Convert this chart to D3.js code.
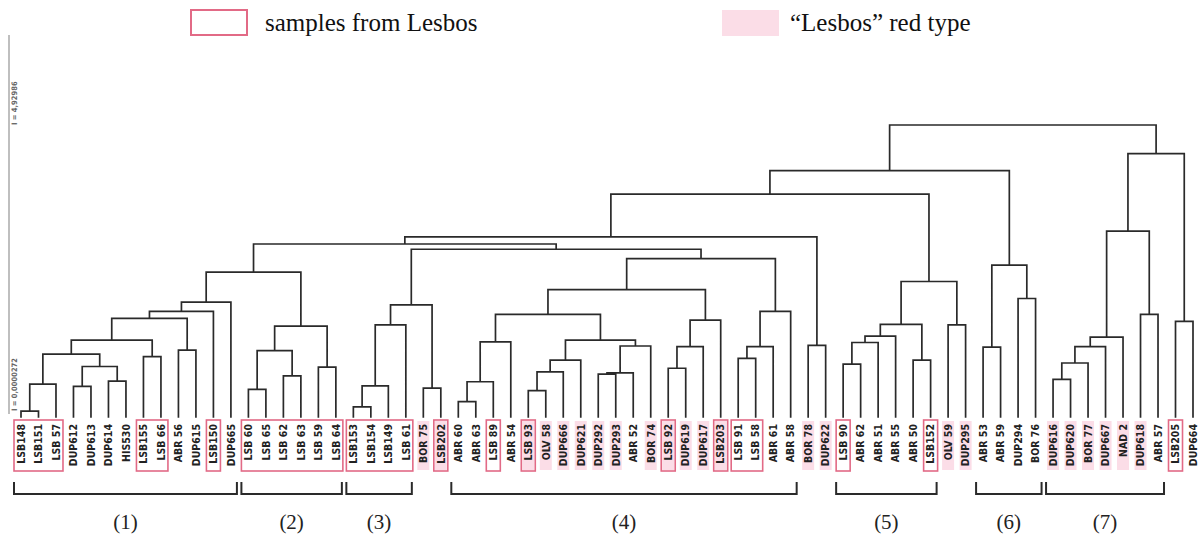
<!DOCTYPE html>
<html>
<head>
<meta charset="utf-8">
<script src="https://cdn.jsdelivr.net/npm/d3@7"></script>
<style>
  html, body { margin: 0; padding: 0; background: #fff; }
  svg { display: block; }
</style>
</head>
<body>
<svg id="chart" width="1202" height="534"></svg>
<script>
// ---------- DATA ----------
const leaves = [
  "LSB148","LSB151","LSB 57","DUP612","DUP613","DUP614","HIS530","LSB155","LSB 66","ABR 56","DUP615","LSB150","DUP665",
  "LSB 60","LSB 65","LSB 62","LSB 63","LSB 59","LSB 64",
  "LSB153","LSB154","LSB149","LSB 61","BOR 75","LSB202",
  "ABR 60","ABR 63","LSB 89","ABR 54","LSB 93","OLV 58","DUP666","DUP621","DUP292","DUP293","ABR 52","BOR 74",
  "LSB 92","DUP619","DUP617","LSB203","LSB 91","LSB 58","ABR 61","ABR 58",
  "BOR 78","DUP622",
  "LSB 90","ABR 62","ABR 51","ABR 55","ABR 50","LSB152","OLV 59","DUP295",
  "ABR 53","ABR 59","DUP294","BOR 76",
  "DUP616","DUP620","BOR 77","DUP667","NAD 2","DUP618","ABR 57","LSB205","DUP664"
];

// merges: [id, left child, right child, height (I)]
const merges = [
  ["m1","LSB148","LSB151",0.05],
  ["m2","m1","LSB 57",0.51],
  ["m3","DUP612","DUP613",0.47],
  ["m4","DUP614","HIS530",0.56],
  ["m5","m3","m4",0.81],
  ["m6","m2","m5",1.02],
  ["m7","LSB155","LSB 66",0.98],
  ["m8","m6","m7",1.26],
  ["m9","ABR 56","DUP615",1.09],
  ["m10","m8","m9",1.63],
  ["m11","m10","LSB150",1.75],
  ["m12","m11","DUP665",1.91],
  ["m13","LSB 60","LSB 65",0.42],
  ["m14","LSB 62","LSB 63",0.65],
  ["m15","m13","m14",1.08],
  ["m16","LSB 59","LSB 64",0.80],
  ["m17","m15","m16",1.50],
  ["m18","m12","m17",2.42],
  ["m19","LSB153","LSB154",0.12],
  ["m20","m19","LSB149",0.48],
  ["m21","m20","LSB 61",1.52],
  ["m22","BOR 75","LSB202",0.44],
  ["m23","m21","m22",1.86],
  ["m24","ABR 60","ABR 63",0.21],
  ["m25","m24","LSB 89",0.55],
  ["m26","m25","ABR 54",1.23],
  ["m27","LSB 93","OLV 58",0.40],
  ["m28","m27","DUP666",0.72],
  ["m29","m28","DUP621",0.92],
  ["m30","DUP292","DUP293",0.68],
  ["m31","m30","ABR 52",0.70],
  ["m32","m31","BOR 74",1.16],
  ["m33","m29","m32",1.26],
  ["m34","m26","m33",1.70],
  ["m35","LSB 92","DUP619",0.78],
  ["m36","m35","DUP617",1.15],
  ["m37","m36","LSB203",1.60],
  ["m38","m34","m37",2.12],
  ["m39","LSB 91","LSB 58",0.95],
  ["m40","m39","ABR 61",1.15],
  ["m41","m40","ABR 58",1.75],
  ["m42","m38","m41",2.65],
  ["m43","m23","m42",2.81],
  ["m44","m18","m43",2.90],
  ["m45","BOR 78","DUP622",1.17],
  ["m46","m44","m45",3.02],
  ["m47","LSB 90","ABR 62",0.85],
  ["m48","m47","ABR 51",1.22],
  ["m49","m48","ABR 55",1.33],
  ["m50","ABR 50","LSB152",0.92],
  ["m51","m49","m50",1.53],
  ["m52","OLV 59","DUP295",1.52],
  ["m53","m51","m52",2.26],
  ["m54","m46","m53",3.75],
  ["m55","ABR 53","ABR 59",1.14],
  ["m56","DUP294","BOR 76",1.97],
  ["m57","m55","m56",2.54],
  ["m58","m54","m57",4.15],
  ["m59","DUP616","DUP620",0.59],
  ["m60","m59","BOR 77",0.87],
  ["m61","m60","DUP667",1.15],
  ["m62","m61","NAD 2",1.31],
  ["m63","DUP618","ABR 57",1.70],
  ["m64","m62","m63",3.12],
  ["m65","LSB205","DUP664",1.58],
  ["m66","m64","m65",4.44],
  ["m67","m58","m66",4.92986]
];

// "Lesbos" red type (pink fill)
const redType = ["BOR 75","LSB202","LSB 93","OLV 58","DUP666","DUP621","DUP292","DUP293","BOR 74",
  "LSB 92","DUP619","DUP617","LSB203","BOR 78","DUP622","OLV 59","DUP295",
  "DUP616","DUP620","BOR 77","DUP667","NAD 2","DUP618"];

// samples from Lesbos (red outline), consecutive runs [first, last]
const lesbosRuns = [
  ["LSB148","LSB 57"],["LSB155","LSB 66"],["LSB150","LSB150"],["LSB 60","LSB 64"],
  ["LSB153","LSB 61"],["LSB202","LSB202"],["LSB 89","LSB 89"],["LSB 93","LSB 93"],
  ["LSB 92","LSB 92"],["LSB203","LSB203"],["LSB 91","LSB 58"],["LSB 90","LSB 90"],
  ["LSB152","LSB152"],["LSB205","LSB205"]
];

// cluster brackets [label, first leaf, last leaf]
const clusters = [
  ["(1)","LSB148","DUP665"],["(2)","LSB 60","LSB 64"],["(3)","LSB153","LSB 61"],
  ["(4)","ABR 60","ABR 58"],["(5)","LSB 90","LSB152"],["(6)","ABR 53","BOR 76"],
  ["(7)","DUP616","ABR 57"]
];

const axisTicks = [["I = 4,92986", 4.92986], ["I = 0,0000272", 0]];

const legendItems = [
  {label: "samples from Lesbos", type: "outline"},
  {label: "\u201CLesbos\u201D red type", type: "fill"}
];

// ---------- DRAW ----------
const svg = d3.select("#chart");
const W = 1202, H = 534;
const RED = "#e26a86", PINK = "#fbdde7", INK = "#2a2a2a";

const x = d3.scalePoint().domain(leaves).range([21, 1193]);
const y = d3.scaleLinear().domain([0, 4.92986]).range([414, 125]);
const leafEnd = y(0) + 3;

// compute node positions
const pos = new Map();
leaves.forEach(l => pos.set(l, {x: x(l), h: null}));
merges.forEach(([id, a, b, h]) => {
  const pa = pos.get(a), pb = pos.get(b);
  pos.set(id, {x: (pa.x + pb.x) / 2, h});
});

// pink fills
const step = x.step();
svg.append("g").selectAll("rect").data(redType).join("rect")
  .attr("x", d => x(d) - 6).attr("width", 12)
  .attr("y", 421).attr("height", 49)
  .attr("fill", PINK);

// red outline boxes
svg.append("g").selectAll("rect").data(lesbosRuns).join("rect")
  .attr("x", d => x(d[0]) - 7).attr("width", d => x(d[1]) - x(d[0]) + 14)
  .attr("y", 420).attr("height", 51)
  .attr("fill", "none").attr("stroke", RED).attr("stroke-width", 1.6);

// dendrogram links
const path = d3.path();
merges.forEach(([id, a, b, h]) => {
  const yh = y(h);
  const pa = pos.get(a), pb = pos.get(b);
  const ya = pa.h === null ? leafEnd : y(pa.h);
  const yb = pb.h === null ? leafEnd : y(pb.h);
  path.moveTo(pa.x, ya); path.lineTo(pa.x, yh); path.lineTo(pb.x, yh); path.lineTo(pb.x, yb);
});
svg.append("path").attr("d", path.toString())
  .attr("fill", "none").attr("stroke", INK).attr("stroke-width", 1.7)
  .attr("stroke-linejoin", "miter").attr("stroke-linecap", "square");

// leaf labels
svg.append("g").selectAll("text").data(leaves).join("text")
  .attr("transform", d => `translate(${x(d)},424) rotate(-90)`)
  .attr("text-anchor", "end").attr("dy", "0.36em")
  .attr("font-family", "'DejaVu Sans Condensed', 'DejaVu Sans', sans-serif")
  .attr("font-weight", "bold").attr("font-size", 10.5)
  .attr("fill", "#222")
  .text(d => d);

// axis
svg.append("line").attr("x1", 9).attr("x2", 9).attr("y1", 35).attr("y2", y(0))
  .attr("stroke", "#aaa").attr("stroke-width", 1.5);
svg.append("g").selectAll("text").data(axisTicks).join("text")
  .attr("transform", d => `translate(14,${y(d[1]) - (d[1] === 0 ? 3 : 0)}) rotate(-90)`)
  .attr("text-anchor", "start").attr("dy", "0.35em")
  .attr("font-family", "'DejaVu Sans Condensed', 'DejaVu Sans', sans-serif")
  .attr("font-weight", "bold").attr("font-size", 7.5)
  .attr("fill", "#666")
  .text(d => d[0]);

// cluster brackets
const br = svg.append("g");
clusters.forEach(([lab, f, l]) => {
  const x0 = x(f) - 7, x1 = x(l) + 6;
  br.append("path")
    .attr("d", `M${x0},482 V494 H${x1} V482`)
    .attr("fill", "none").attr("stroke", INK).attr("stroke-width", 2);
  br.append("text").attr("x", (x0 + x1) / 2).attr("y", 529)
    .attr("text-anchor", "middle")
    .attr("font-family", "'Liberation Serif', 'Times New Roman', serif")
    .attr("font-size", 21).attr("fill", "#222")
    .text(lab);
});

// legend
const legX = [190, 722];
legendItems.forEach((d, i) => {
  const g = svg.append("g").attr("transform", `translate(${legX[i]},9)`);
  if (d.type === "outline") {
    g.append("rect").attr("x", 1).attr("y", 1).attr("width", 56).attr("height", 25)
      .attr("fill", "#fff").attr("stroke", RED).attr("stroke-width", 2);
  } else {
    g.append("rect").attr("x", 0).attr("y", 1).attr("width", 57).attr("height", 26)
      .attr("fill", PINK);
  }
  g.append("text").attr("x", i === 0 ? 75 : 68).attr("y", 22)
    .attr("font-family", "'Liberation Serif', 'Times New Roman', serif")
    .attr("font-size", 25).attr("fill", "#111")
    .text(d.label);
});
</script>
</body>
</html>
